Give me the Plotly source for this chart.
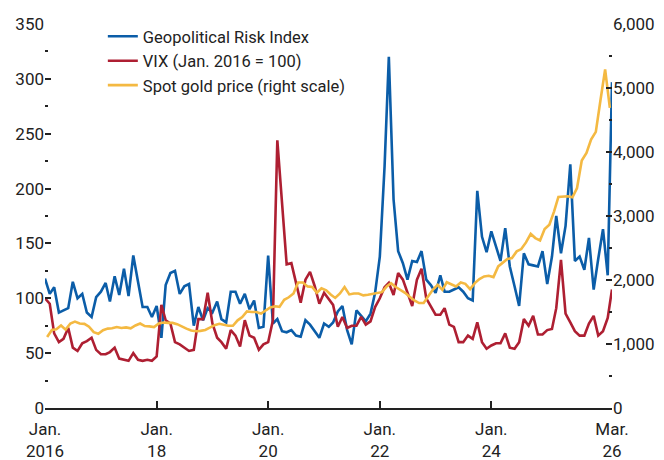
import pandas as pd
import plotly.graph_objects as go

# Monthly observations, Jan. 2016 - Mar. 2026
months = pd.date_range("2016-01-01", periods=123, freq="MS")

gpr = [118, 104, 110, 87, 89, 91, 115, 100, 104, 87, 83, 101,
       106, 114, 97, 120, 103, 127, 102, 139, 115, 92, 92, 83,
       93, 64, 112, 123, 125, 104, 111, 113, 75, 92, 80, 91,
       87, 97, 81, 78, 106, 106, 95, 104, 90, 98, 73, 74,
       139, 77, 81, 70, 69, 71, 66, 65, 80, 76, 70, 64,
       77, 74, 78, 88, 93, 71, 58, 89, 84, 79, 86, 105,
       138, 220, 320, 190, 143, 132, 117, 134, 133, 143, 117, 112,
       105, 121, 106, 106, 108, 110, 106, 100, 98, 198, 156, 142,
       161, 147, 134, 164, 129, 111, 93, 141, 131, 130, 129, 143,
       113, 138, 175, 141, 166, 222, 134, 138, 126, 155, 108, 136,
       163, 121, 297]

vix = [100, 95, 68, 60, 63, 73, 55, 52, 59, 61, 64, 53,
       49, 49, 51, 55, 45, 44, 43, 50, 44, 43, 44, 43,
       47, 94, 80, 77, 60, 58, 55, 52, 53, 81, 81, 105,
       77, 64, 60, 54, 71, 66, 56, 80, 66, 64, 53, 58,
       60, 80, 244, 185, 131, 132, 114, 96, 117, 124, 111, 95,
       105, 99, 94, 74, 83, 73, 75, 75, 83, 76, 79, 92,
       100, 110, 114, 103, 123, 117, 105, 93, 117, 127, 100, 92,
       85, 85, 91, 76, 74, 60, 60, 66, 63, 78, 60, 54,
       57, 59, 59, 68, 55, 54, 60, 81, 75, 84, 67, 67,
       71, 72, 91, 135, 86, 78, 70, 66, 66, 77, 84, 66,
       70, 82, 108]

# Spot gold, mid-month observations (US$ per ounce), Jan. 2016 - Feb. 2026
gold_dates = [d + pd.Timedelta(days=14) for d in pd.date_range("2016-01-01", periods=122, freq="MS")]
gold = [1110, 1220, 1230, 1290, 1225, 1320, 1350, 1320, 1315, 1270, 1185, 1160,
        1215, 1240, 1245, 1265, 1250, 1260, 1245, 1290, 1320, 1280, 1275, 1265,
        1320, 1335, 1330, 1330, 1310, 1270, 1240, 1210, 1200, 1205, 1220, 1255,
        1295, 1315, 1300, 1285, 1285, 1370, 1420, 1510, 1500, 1500, 1475, 1520,
        1570, 1590, 1580, 1690, 1730, 1790, 1960, 1960, 1900, 1890, 1800, 1870,
        1840, 1770, 1720, 1790, 1890, 1775, 1790, 1790, 1760, 1770, 1780, 1800,
        1810, 1900, 1950, 1890, 1850, 1800, 1740, 1680, 1640, 1640, 1750, 1850,
        1925, 1847, 1965, 1925, 1899, 1961, 1940, 1857, 1951, 2014, 2056, 2066,
        2045, 2212, 2264, 2327, 2343, 2447, 2483, 2587, 2720, 2655, 2619, 2796,
        2864, 3073, 3297, 3297, 3308, 3292, 3438, 3866, 3986, 4194, 4314, 4800,
        5290, 4690]

x_tickvals = ["2016-01-01", "2018-01-01", "2020-01-01", "2022-01-01", "2024-01-01", "2026-03-01"]
x_ticktext = ["Jan.<br>2016", "Jan.<br>18", "Jan.<br>20", "Jan.<br>22", "Jan.<br>24", "Mar.<br>26"]

FONT = "Roboto, Lato, sans-serif"
BLUE = "#0B5DA8"
RED = "#AE1F32"
GOLD = "#F4B942"
INK = "#222222"

fig = go.Figure()
fig.add_trace(go.Scatter(x=months, y=gpr, name="Geopolitical Risk Index",
                         mode="lines", line=dict(color=BLUE, width=2.6)))
fig.add_trace(go.Scatter(x=months, y=vix, name="VIX (Jan. 2016 = 100)",
                         mode="lines", line=dict(color=RED, width=2.6)))
fig.add_trace(go.Scatter(x=gold_dates, y=gold, name="Spot gold price (right scale)",
                         mode="lines", line=dict(color=GOLD, width=2.6), yaxis="y2"))

fig.update_layout(
    width=664, height=460,
    margin=dict(l=45, r=52, t=24, b=52, autoexpand=False),
    paper_bgcolor="white", plot_bgcolor="white",
    font=dict(family=FONT, size=17, color=INK),
    showlegend=True,
    legend=dict(x=0.102, y=1.013, xanchor="left", yanchor="top",
                bgcolor="rgba(0,0,0,0)", font=dict(size=16.5), tracegroupgap=0),
    xaxis=dict(range=["2016-01-01", "2026-03-01"], tickvals=x_tickvals, ticktext=x_ticktext,
               showline=True, linecolor=INK, linewidth=1.5,
               ticks="inside", ticklen=7, tickcolor=INK, tickwidth=1.5,
               ticklabelstandoff=5,
               showgrid=False, zeroline=False),
    yaxis=dict(range=[0, 350], dtick=50, tick0=0, showline=False, showgrid=False, zeroline=False,
               ticks="inside", ticklen=6, tickcolor=INK, tickwidth=1.5,
               minor=dict(ticks="inside", ticklen=3, dtick=25, tickcolor=INK, tickwidth=1.5)),
    yaxis2=dict(range=[0, 6000], dtick=1000, tick0=0, overlaying="y", side="right",
                tickformat=",", showline=False, showgrid=False, zeroline=False,
                ticks="inside", ticklen=6, tickcolor=INK, tickwidth=1.5,
                minor=dict(ticks="inside", ticklen=3, dtick=500, tickcolor=INK, tickwidth=1.5)),
)

fig.write_html("out.html", config={"displayModeBar": False},
               post_script="document.body.style.margin='0';document.body.style.overflow='hidden';")
